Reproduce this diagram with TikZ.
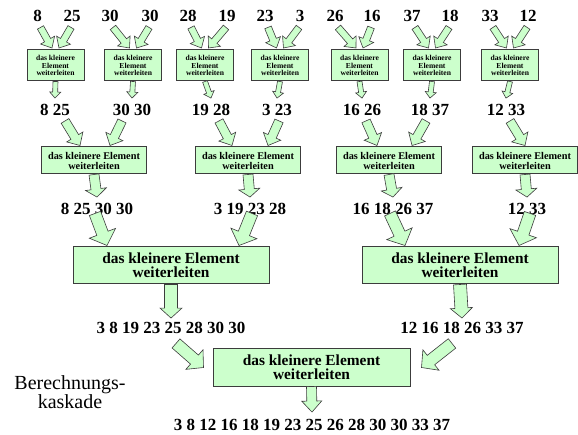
\documentclass[tikz,border=0pt]{standalone}
\usepackage{fontspec}
\setmainfont{Liberation Serif}
\usepackage{tikz}
\usetikzlibrary{calc, positioning}
\definecolor{lightgreen}{RGB}{204,255,204}
\definecolor{edgegray}{RGB}{60,60,60}
\tikzstyle{numbers} = [inner sep=0pt, font=\fontsize{17}{17}\selectfont\bfseries]
\tikzstyle{boxA} = [rectangle, minimum width=57pt, minimum height=31pt, align=center, inner sep=0pt, draw=edgegray, line width=1pt, fill=lightgreen, font=\fontsize{7.6}{7.5}\selectfont\bfseries]
\tikzstyle{boxB} = [boxA, minimum width=105pt, minimum height=27pt, font=\fontsize{10.3}{10}\selectfont\bfseries]
\tikzstyle{boxC} = [boxA, minimum width=196pt, minimum height=37pt, font=\fontsize{15.4}{14}\selectfont\bfseries]
\tikzstyle{arrowline} = [draw=edgegray, line width=0.6pt, fill=lightgreen, line join=miter]
% block arrow: half shaft, half head, head length, from, to
\newcommand{\fatarrow}[5]{%
\draw[arrowline] let \p1=#4, \p2=#5, \n1={atan2(\y2-\y1,\x2-\x1)}, \n2={veclen(\x2-\x1,\y2-\y1)} in
 ($(\p1)+(\n1+90:#1)$) -- ($(\p1)+(\n1:\n2-#3)+(\n1+90:#1)$) -- ($(\p1)+(\n1:\n2-#3)+(\n1+90:#2)$) -- (\p2)
 -- ($(\p1)+(\n1:\n2-#3)+(\n1-90:#2)$) -- ($(\p1)+(\n1:\n2-#3)+(\n1-90:#1)$) -- ($(\p1)+(\n1-90:#1)$) -- cycle;}

\begin{document}
\begin{tikzpicture}[x=1pt, y=-1pt]
\useasboundingbox (0,0) rectangle (578,435);
% first row
\node (n1) [numbers] at (37.5,15.5) {8};
\node (n2) [numbers] at (72,15.5) {25};
\node (n3) [numbers] at (110,15.5) {30};
\node (n4) [numbers] at (150,15.5) {30};
\node (n5) [numbers] at (188,15.5) {28};
\node (n6) [numbers] at (227,15.5) {19};
\node (n7) [numbers] at (265,15.5) {23};
\node (n8) [numbers] at (300,15.5) {3};
\node (n9) [numbers] at (335,15.5) {26};
\node (n10) [numbers] at (372,15.5) {16};
\node (n11) [numbers] at (412,15.5) {37};
\node (n12) [numbers] at (450,15.5) {18};
\node (n13) [numbers] at (490,15.5) {33};
\node (n14) [numbers] at (528,15.5) {12};
\node (a1) [boxA] at (55.5,65.5) {das kleinere\\Element\\weiterleiten};
\node (a2) [boxA] at (133,65.5) {das kleinere\\Element\\weiterleiten};
\node (a3) [boxA] at (205,65.5) {das kleinere\\Element\\weiterleiten};
\node (a4) [boxA] at (280,65.5) {das kleinere\\Element\\weiterleiten};
\node (a5) [boxA] at (359.5,65.5) {das kleinere\\Element\\weiterleiten};
\node (a6) [boxA] at (432,65.5) {das kleinere\\Element\\weiterleiten};
\node (a7) [boxA] at (510,65.5) {das kleinere\\Element\\weiterleiten};
\node (o1) [numbers] at (55,110) {8 25};
\node (o2) [numbers] at (132,110) {30 30};
\node (o3) [numbers] at (211,110) {19 28};
\node (o4) [numbers] at (277,110) {3 23};
\node (o5) [numbers] at (362,110) {16 26};
\node (o6) [numbers] at (430,110) {18 37};
\node (o7) [numbers] at (506,110) {12 33};
% second row
\node (b1) [boxB] at (94,160.5) {das kleinere Element\\weiterleiten};
\node (b2) [boxB] at (248,160.5) {das kleinere Element\\weiterleiten};
\node (b3) [boxB] at (389,160.5) {das kleinere Element\\weiterleiten};
\node (b4) [boxB] at (525,160.5) {das kleinere Element\\weiterleiten};
\node (p1) [numbers] at (97,208.5) {8 25 30 30};
\node (p2) [numbers] at (250,208.5) {3 19 23 28};
\node (p3) [numbers] at (393,208.5) {16 18 26 37};
\node (p4) [numbers] at (527,208.5) {12 33};
% third row
\node (c1) [boxC] at (171,265.5) {das kleinere Element\\weiterleiten};
\node (c2) [boxC] at (460,265.5) {das kleinere Element\\weiterleiten};
\node (q1) [numbers] at (171,327.5) {3 8 19 23 25 28 30 30};
\node (q2) [numbers] at (462,327.5) {12 16 18 26 33 37};
% last row
\node (d) [boxC, minimum width=197pt] at (311.5,367.5) {das kleinere Element\\weiterleiten};
\node (f) [numbers] at (312,425) {3 8 12 16 18 19 23 25 26 28 30 30 33 37};
\node (lab) [align=center, font=\fontsize{20}{19}\selectfont] at (70,392.5) {Berechnungs-\\kaskade};

\fatarrow{3.5pt}{8pt}{9pt}{([xshift=3pt,yshift=-6pt]n1.south)}{([xshift=-3.5pt,yshift=1.5pt]a1.north)}
\fatarrow{3.5pt}{8pt}{9pt}{([xshift=-1pt,yshift=-6pt]n2.south)}{([xshift=3.5pt,yshift=1.5pt]a1.north)}
\fatarrow{3.5pt}{8pt}{9pt}{([xshift=3pt,yshift=-6pt]n3.south)}{([xshift=-3.5pt,yshift=1.5pt]a2.north)}
\fatarrow{3.5pt}{8pt}{9pt}{([xshift=-1pt,yshift=-6pt]n4.south)}{([xshift=3.5pt,yshift=1.5pt]a2.north)}
\fatarrow{3.5pt}{8pt}{9pt}{([xshift=3pt,yshift=-6pt]n5.south)}{([xshift=-3.5pt,yshift=1.5pt]a3.north)}
\fatarrow{3.5pt}{8pt}{9pt}{([xshift=-1pt,yshift=-6pt]n6.south)}{([xshift=3.5pt,yshift=1.5pt]a3.north)}
\fatarrow{3.5pt}{8pt}{9pt}{([xshift=3pt,yshift=-6pt]n7.south)}{([xshift=-3.5pt,yshift=1.5pt]a4.north)}
\fatarrow{3.5pt}{8pt}{9pt}{([xshift=-1pt,yshift=-6pt]n8.south)}{([xshift=3.5pt,yshift=1.5pt]a4.north)}
\fatarrow{3.5pt}{8pt}{9pt}{([xshift=3pt,yshift=-6pt]n9.south)}{([xshift=-3.5pt,yshift=1.5pt]a5.north)}
\fatarrow{3.5pt}{8pt}{9pt}{([xshift=-1pt,yshift=-6pt]n10.south)}{([xshift=3.5pt,yshift=1.5pt]a5.north)}
\fatarrow{3.5pt}{8pt}{9pt}{([xshift=3pt,yshift=-6pt]n11.south)}{([xshift=-3.5pt,yshift=1.5pt]a6.north)}
\fatarrow{3.5pt}{8pt}{9pt}{([xshift=-1pt,yshift=-6pt]n12.south)}{([xshift=3.5pt,yshift=1.5pt]a6.north)}
\fatarrow{3.5pt}{8pt}{9pt}{([xshift=3pt,yshift=-6pt]n13.south)}{([xshift=-3.5pt,yshift=1.5pt]a7.north)}
\fatarrow{3.5pt}{8pt}{9pt}{([xshift=-1pt,yshift=-6pt]n14.south)}{([xshift=3.5pt,yshift=1.5pt]a7.north)}

\fatarrow{2.5pt}{5.5pt}{6pt}{(a1.south)}{([yshift=6pt]o1.north)}
\fatarrow{2.5pt}{5.5pt}{6pt}{(a2.south)}{([yshift=6pt]o2.north)}
\fatarrow{2.5pt}{5.5pt}{6pt}{(a3.south)}{([yshift=6pt]o3.north)}
\fatarrow{2.5pt}{5.5pt}{6pt}{(a4.south)}{([yshift=6pt]o4.north)}
\fatarrow{2.5pt}{5.5pt}{6pt}{(a5.south)}{([yshift=6pt]o5.north)}
\fatarrow{2.5pt}{5.5pt}{6pt}{(a6.south)}{([yshift=6pt]o6.north)}
\fatarrow{2.5pt}{5.5pt}{6pt}{(a7.south)}{([yshift=6pt]o7.north)}

\fatarrow{4.5pt}{9.5pt}{10pt}{([xshift=10pt,yshift=-5pt]o1.south)}{([xshift=-14pt,yshift=1pt]b1.north)}
\fatarrow{4.5pt}{9.5pt}{10pt}{([xshift=-10pt,yshift=-5pt]o2.south)}{([xshift=16pt,yshift=1pt]b1.north)}
\fatarrow{4.5pt}{9.5pt}{10pt}{([xshift=8pt,yshift=-5pt]o3.south)}{([xshift=-16pt,yshift=1pt]b2.north)}
\fatarrow{4.5pt}{9.5pt}{10pt}{([xshift=2pt,yshift=-5pt]o4.south)}{([xshift=20pt,yshift=1pt]b2.north)}
\fatarrow{4.5pt}{9.5pt}{10pt}{([xshift=4pt,yshift=-5pt]o5.south)}{([xshift=-12pt,yshift=1pt]b3.north)}
\fatarrow{4.5pt}{9.5pt}{10pt}{([xshift=-4pt,yshift=-5pt]o6.south)}{([xshift=23pt,yshift=1pt]b3.north)}
\fatarrow{4.5pt}{9.5pt}{10pt}{([xshift=4pt,yshift=-5pt]o7.south)}{([xshift=0pt,yshift=1pt]b4.north)}

\fatarrow{5pt}{10.5pt}{8pt}{(b1.south)}{([yshift=5.5pt]p1.north)}
\fatarrow{5pt}{10.5pt}{8pt}{(b2.south)}{([yshift=5.5pt]p2.north)}
\fatarrow{5pt}{10.5pt}{8pt}{(b3.south)}{([yshift=5.5pt]p3.north)}
\fatarrow{5pt}{10.5pt}{8pt}{(b4.south)}{([yshift=5.5pt]p4.north)}

\fatarrow{6pt}{14pt}{13pt}{([xshift=-2pt,yshift=1pt]p1.south)}{([xshift=-64pt,yshift=1pt]c1.north)}
\fatarrow{6pt}{14pt}{13pt}{([xshift=2pt,yshift=1pt]p2.south)}{([xshift=68pt,yshift=1pt]c1.north)}
\fatarrow{6pt}{14pt}{13pt}{([xshift=-3pt,yshift=1pt]p3.south)}{([xshift=-55pt,yshift=1pt]c2.north)}
\fatarrow{6pt}{14pt}{13pt}{([xshift=3pt,yshift=1pt]p4.south)}{([xshift=59pt,yshift=1pt]c2.north)}

\fatarrow{6.5pt}{11pt}{10pt}{(c1.south)}{([yshift=3.5pt]q1.north)}
\fatarrow{6.5pt}{11pt}{10pt}{(c2.south)}{([yshift=3.5pt]q2.north)}

\fatarrow{6pt}{13pt}{12pt}{([xshift=5pt,yshift=-10pt]q1.south)}{([xshift=-9pt]d.west)}
\fatarrow{6pt}{13pt}{12pt}{([xshift=-10pt,yshift=-10pt]q2.south)}{([xshift=11pt]d.east)}

\fatarrow{5pt}{10pt}{11pt}{(d.south)}{([yshift=7pt]f.north)}
\end{tikzpicture}
\end{document}
